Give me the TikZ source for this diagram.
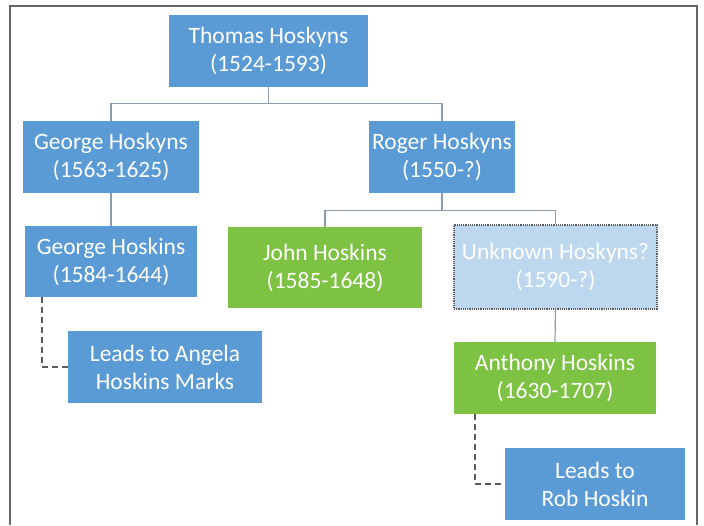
\documentclass[tikz,border=0pt]{standalone}
\usepackage{fontspec}
\setmainfont{Carlito}
\usepackage{tikz}
\definecolor{boxblue}{HTML}{5B9BD5}
\definecolor{boxgreen}{HTML}{7DC242}
\definecolor{boxpale}{HTML}{BDD7EE}
\definecolor{linkgrey}{HTML}{8C9CB0}
\definecolor{leadgrey}{HTML}{5A5A5A}
\tikzset{
  person/.style={draw=none,text=white,align=center,inner sep=0pt,
    font=\fontsize{23.5}{28}\selectfont},
  blueperson/.style={person,fill=boxblue},
  greenperson/.style={person,fill=boxgreen},
  unsureperson/.style={person,fill=boxpale,draw=leadgrey,densely dotted,line width=1.2pt},
  link/.style={draw=linkgrey,line width=1.2pt},
  leadline/.style={draw=leadgrey,line width=2pt,dash pattern=on 6pt off 4pt},
}

\begin{document}
\begin{tikzpicture}[x=1pt,y=-1pt]
\useasboundingbox (0,0) rectangle (704,525);
% frame round the chart:
\path[draw=gray!80!black,line width=1.6pt] (10,525) -- (10,6) -- (697,6) -- (697,525);
% people:
\node[blueperson,minimum width=199pt,minimum height=72pt] (thomas) at (268.5,51) {Thomas Hoskyns\\(1524-1593)};
\node[blueperson,minimum width=176pt,minimum height=72pt] (georgeA) at (111,157) {George Hoskyns\\(1563-1625)};
\node[blueperson,minimum width=146pt,minimum height=72pt] (roger) at (442,157) {Roger Hoskyns\\(1550-?)};
\node[blueperson,minimum width=172pt,minimum height=71pt] (georgeB) at (111,261.5) {George Hoskins\\(1584-1644)};
\node[greenperson,minimum width=194pt,minimum height=81pt] (john) at (325,267.5) {John Hoskins\\(1585-1648)};
\node[unsureperson,minimum width=203pt,minimum height=84pt] (unknown) at (555.5,267) {Unknown Hoskyns?\\(1590-?)};
\node[greenperson,minimum width=202pt,minimum height=72pt] (anthony) at (555,378) {Anthony Hoskins\\(1630-1707)};
\node[blueperson,minimum width=194pt,minimum height=72pt] (angela) at (165,367) {Leads to Angela\\Hoskins Marks};
\node[blueperson,minimum width=180pt,minimum height=72pt] (rob) at (595,484) {Leads to\\Rob Hoskin};
% family links:
\path[link] (thomas.south) -- ++(0,16) -| (georgeA.north);
\path[link] (thomas.south) -- ++(0,16) -| (roger.north);
\path[link] (roger.south) -- ++(0,17) -| (john.north);
\path[link] (roger.south) -- ++(0,17) -| (unknown.north);
\path[link] (georgeA.south) -- (georgeB.north);
\path[link] (unknown.south) -- (anthony.north);
% descent lines:
\path[leadline] ([xshift=-69pt]georgeB.south) |- (angela.west);
\path[leadline] ([xshift=-80pt]anthony.south) |- (rob.west);
\end{tikzpicture}
\end{document}
